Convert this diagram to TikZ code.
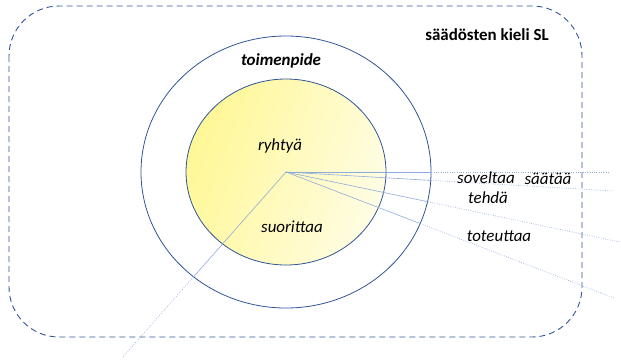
\documentclass[tikz,border=0pt]{standalone}
\usepackage{fontspec}
\setmainfont{Carlito}
\usepackage{xcolor}
\usepackage{tikz}
\usetikzlibrary{positioning,calc,shapes.geometric}

\definecolor{rimblue}{RGB}{47,85,151}
\definecolor{spokeblue}{RGB}{143,170,220}
\definecolor{yelA}{RGB}{255,247,150}
\definecolor{yelB}{RGB}{255,253,228}

\begin{document}
\begin{tikzpicture}[x=1bp,y=-1bp,
    ring/.style={ellipse,draw=rimblue,line width=0.8pt,inner sep=0pt},
    frame/.style={draw=rimblue,line width=0.9pt,dash pattern=on 6bp off 4bp,rounded corners=50bp},
    spoke/.style={draw=spokeblue,line width=0.6pt},
    dots/.style={dash pattern=on 0.8pt off 1.5pt},
    verb/.style={font=\fontsize{17}{20}\selectfont\itshape,inner sep=1pt},
    title/.style={font=\fontsize{17}{20}\selectfont\bfseries,inner sep=1pt}]
    \useasboundingbox (0,0) rectangle (621,360);
    \draw[frame] (9,6) rectangle (582,337);

    \coordinate (hub) at (286,172);
    \node[ring,left color=yelA,right color=yelB,shading angle=70,minimum width=200bp,minimum height=186bp] (inner) at (hub) {};
    \node[ring,minimum width=290bp,minimum height=272bp] (outer) at (hub) {};

    % free ends of the spokes
    \coordinate (e1) at (608,172);
    \coordinate (e2) at (614,191);
    \coordinate (e3) at (620,242);
    \coordinate (e4) at (614,298);
    \coordinate (e5) at (122,358);
    \foreach \e in {e1,e2,e3,e4,e5}{
        \path (\e) -- (outer) coordinate[pos=1] (\e b);
        \draw[spoke] (hub) -- (\e b);
        \draw[spoke,dots] (\e b) -- (\e);
    }

    \node[title] (kieli) at (487,35) {säädösten kieli SL};
    \node[verb,font=\fontsize{17}{20}\selectfont\bfseries\itshape] (toimenpide) at (281,61) {toimenpide};
    \node[verb] (ryhtya) at (280,146) {ryhtyä};
    \node[verb] (suorittaa) at (292,227) {suorittaa};
    \node[verb] (soveltaa) at (486,178) {soveltaa};
    \node[verb] (saataa) at (548,179) {säätää};
    \node[verb] (tehda) at (488,198) {tehdä};
    \node[verb] (toteuttaa) at (499,236) {toteuttaa};
\end{tikzpicture}
\end{document}
